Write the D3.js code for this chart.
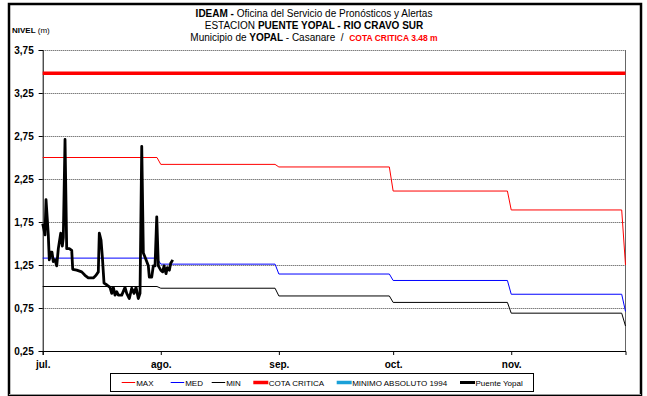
<!DOCTYPE html>
<html>
<head>
<meta charset="utf-8">
<script src="https://cdn.jsdelivr.net/npm/d3@7"></script>
<style>
  html, body { margin: 0; padding: 0; background: #fff; }
  svg { display: block; font-family: "Liberation Sans", Arial, sans-serif; }
</style>
</head>
<body>
<svg id="chart" width="647" height="396"></svg>
<script>
// ---------- DATA ----------
const monthStarts = ["2010-07-01", "2010-08-01", "2010-09-01", "2010-10-01", "2010-11-01", "2010-12-01"];
const monthLabels = ["jul.", "ago.", "sep.", "oct.", "nov."];
const maxLevels = [2.50, 2.42, 2.39, 2.11, 1.89, 1.25];
const medLevels = [1.33, 1.26, 1.145, 1.07, 0.91, 0.71];
const minLevels = [1.00, 0.98, 0.89, 0.815, 0.69, 0.54];
const cotaCritica = 3.48;
const yTicks = [0.25, 0.75, 1.25, 1.75, 2.25, 2.75, 3.25, 3.75];

// Observed levels, Puente Yopal (time = days after 1 jul.)
const obsDays = [0, 0.34, 0.6, 0.87, 1.47, 1.73, 2.1, 2.44, 2.78, 3.23, 3.68, 4.1, 4.73, 5.15, 5.41, 5.86,
  6.3, 6.99, 7.62, 7.88, 8.93, 10.24, 11.1, 11.97, 13.29, 14.0, 14.6, 14.86, 15.31, 15.65, 16.1, 16.8,
  17.67, 18.12, 18.54, 18.99, 19.43, 19.85, 20.75, 21.61, 22.06, 22.74, 23.37, 23.98, 24.5, 25.1, 25.55,
  26.0, 26.42, 27.13, 27.73, 27.99, 28.62, 29.04, 29.49, 29.94, 30.36, 30.99, 31.51, 31.85, 32.38, 32.72,
  33.25, 33.61, 34.14];
const obsLevels = [1.73, 1.66, 1.60, 2.01, 1.60, 1.31, 1.40, 1.40, 1.29, 1.31, 1.24, 1.44, 1.62, 1.47, 1.57, 2.71,
  1.44, 1.44, 1.42, 1.20, 1.19, 1.17, 1.13, 1.10, 1.10, 1.13, 1.17, 1.62, 1.54, 1.35, 1.04, 1.02,
  0.99, 0.92, 0.99, 0.90, 0.94, 0.90, 0.90, 0.99, 0.92, 0.86, 0.98, 0.92, 0.99, 0.86, 0.92,
  2.63, 1.39, 1.31, 1.24, 1.11, 1.11, 1.24, 1.24, 1.81, 1.24, 1.19, 1.17, 1.24, 1.15, 1.22,
  1.19, 1.27, 1.31];

const legendItems = [
  { name: "MAX", color: "#ff0000", width: 1 },
  { name: "MED", color: "#0000ff", width: 1 },
  { name: "MIN", color: "#000000", width: 1 },
  { name: "COTA CRITICA", color: "#ff0000", width: 3.5 },
  { name: "MINIMO ABSOLUTO 1994", color: "#1aa0d8", width: 3.5 },
  { name: "Puente Yopal", color: "#000000", width: 3 }
];

// ---------- SETUP ----------
const svg = d3.select("#chart");
const parse = d3.timeParse("%Y-%m-%d");
const months = monthStarts.map(parse);
const t0 = months[0];

const plot = { left: 42.7, right: 625.5, top: 50, bottom: 351 };

const x = d3.scaleTime().domain([months[0], months[months.length - 1]]).range([plot.left, plot.right]);
const y = d3.scaleLinear().domain([0.25, 3.75]).range([plot.bottom, plot.top]);

// outer frame
svg.append("rect").attr("x", 9).attr("y", 4).attr("width", 632).attr("height", 392)
  .attr("fill", "#fff").attr("stroke", "#000").attr("stroke-width", 2.5);
svg.append("line").attr("x1", 9).attr("x2", 641).attr("y1", 394.5).attr("y2", 394.5)
  .attr("stroke", "#999").attr("stroke-width", 1);

// titles
const t1 = svg.append("text").attr("x", 314).attr("y", 16.5).attr("text-anchor", "middle").attr("font-size", 10);
t1.append("tspan").attr("font-weight", "bold").text("IDEAM -");
t1.append("tspan").text(" Oficina del Servicio de Pronósticos y Alertas");
const t2 = svg.append("text").attr("x", 314).attr("y", 28.5).attr("text-anchor", "middle").attr("font-size", 10);
t2.append("tspan").text("ESTACION ");
t2.append("tspan").attr("font-weight", "bold").text("PUENTE YOPAL - RIO CRAVO SUR");
const t3 = svg.append("text").attr("x", 314).attr("y", 40.5).attr("text-anchor", "middle").attr("font-size", 10);
t3.append("tspan").text("Municipio de ");
t3.append("tspan").attr("font-weight", "bold").text("YOPAL");
t3.append("tspan").text(" - Casanare\u00a0\u00a0/\u00a0\u00a0");
t3.append("tspan").attr("font-weight", "bold").attr("fill", "#ff0000").attr("font-size", 8.5).text("COTA CRITICA 3.48 m");

const nv = svg.append("text").attr("x", 12).attr("y", 32.5).attr("font-size", 8);
nv.append("tspan").attr("font-weight", "bold").text("NIVEL");
nv.append("tspan").text(" (m)");

// gridlines
svg.append("g").selectAll("line").data(yTicks.filter(v => v > 0.25)).join("line")
  .attr("x1", plot.left).attr("x2", plot.right)
  .attr("y1", d => Math.round(y(d)) + 0.5).attr("y2", d => Math.round(y(d)) + 0.5)
  .attr("stroke", "#444").attr("stroke-width", 1).attr("stroke-dasharray", "1,1");

// right border of plot
svg.append("line").attr("x1", plot.right).attr("x2", plot.right).attr("y1", plot.top).attr("y2", plot.bottom)
  .attr("stroke", "#666").attr("stroke-width", 1);

// axes
const yAxis = d3.axisLeft(y).tickValues(yTicks).tickSize(4).tickFormat(d => d3.format(".2f")(d).replace(".", ","));
const gy = svg.append("g").attr("transform", `translate(${plot.left},0)`).call(yAxis);
gy.select(".domain").attr("stroke", "#000");
gy.selectAll("text").attr("font-size", 10).attr("font-weight", "bold").attr("fill", "#000")
  .attr("font-family", "Liberation Sans, Arial, sans-serif").attr("dx", -2);

const xAxis = d3.axisBottom(x).tickValues(months.slice(0, 5)).tickSize(4).tickFormat((d, i) => monthLabels[i]);
const gx = svg.append("g").attr("transform", `translate(0,${plot.bottom})`).call(xAxis);
gx.select(".domain").attr("stroke", "#000");
gx.selectAll("text").attr("font-size", 10).attr("font-weight", "bold").attr("fill", "#000")
  .attr("font-family", "Liberation Sans, Arial, sans-serif").attr("dy", "1.0em");

// step lines from monthly values
function stepPoints(vals) {
  const pts = [];
  for (let i = 0; i < months.length - 1; i++) {
    pts.push([months[i], vals[i]]);
    pts.push([d3.timeDay.offset(months[i + 1], -1), vals[i]]);
  }
  pts.push([months[months.length - 1], vals[vals.length - 1]]);
  return pts;
}
const line = d3.line().x(d => x(d[0])).y(d => y(d[1]));

svg.append("path").datum(stepPoints(minLevels)).attr("d", line)
  .attr("fill", "none").attr("stroke", "#000").attr("stroke-width", 1);
svg.append("path").datum(stepPoints(medLevels)).attr("d", line)
  .attr("fill", "none").attr("stroke", "#0000ff").attr("stroke-width", 1);
svg.append("path").datum(stepPoints(maxLevels)).attr("d", line)
  .attr("fill", "none").attr("stroke", "#ff0000").attr("stroke-width", 1);

// cota critica
svg.append("path").datum([[months[0], cotaCritica], [months[months.length - 1], cotaCritica]]).attr("d", line)
  .attr("fill", "none").attr("stroke", "#ff0000").attr("stroke-width", 3.5);

// observed
const obs = obsDays.map((d, i) => [new Date(t0.getTime() + d * 864e5), obsLevels[i]]);
svg.append("path").datum(obs).attr("d", line)
  .attr("fill", "none").attr("stroke", "#000").attr("stroke-width", 2.8).attr("stroke-linejoin", "round");

// legend
svg.append("rect").attr("x", 110.5).attr("y", 373.5).attr("width", 423).attr("height", 18)
  .attr("fill", "#fff").attr("stroke", "#000").attr("stroke-width", 1);
const legX = [121.7, 170.7, 211.7, 253.3, 336.7, 460];
const lg = svg.append("g").selectAll("g").data(legendItems).join("g")
  .attr("transform", (d, i) => `translate(${legX[i]},382.5)`);
lg.append("line").attr("x1", 0).attr("x2", d => d.width > 2 ? 15 : 13.5).attr("y1", 0).attr("y2", 0)
  .attr("stroke", d => d.color).attr("stroke-width", d => d.width);
lg.append("text").attr("x", d => d.width > 2 ? 15.5 : 14.5).attr("y", 3).attr("font-size", 8).text(d => d.name);
</script>
</body>
</html>
